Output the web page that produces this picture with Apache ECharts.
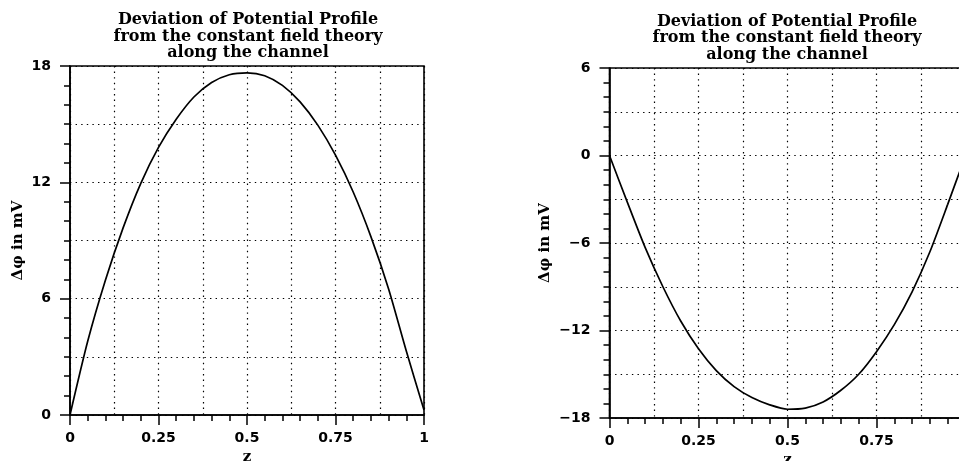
<!DOCTYPE html>
<html>
<head>
<meta charset="utf-8">
<script src="https://cdn.jsdelivr.net/npm/echarts@6/dist/echarts.min.js"></script>
<style>
html,body{margin:0;padding:0;background:#fff;overflow:hidden;}
#chart{width:959px;height:461px;}
</style>
</head>
<body>
<div id="chart"></div>
<script>
// ---- data ----
var zValues = [0, 0.05, 0.1, 0.15, 0.2, 0.25, 0.3, 0.35, 0.4, 0.45, 0.5, 0.55, 0.6, 0.65, 0.7, 0.75, 0.8, 0.85, 0.9, 0.95, 1.0];
var leftDelta = [0, 3.8, 6.95, 9.65, 11.95, 13.8, 15.25, 16.4, 17.15, 17.55, 17.65, 17.5, 17.0, 16.15, 14.95, 13.4, 11.5, 9.2, 6.5, 3.3, 0.26];
var rightDelta = [0, -3.2, -6.3, -9.0, -11.35, -13.25, -14.75, -15.85, -16.6, -17.1, -17.4, -17.32, -16.9, -16.1, -15.0, -13.45, -11.6, -9.35, -6.6, -3.35, 0.0];
var titleText = 'Deviation of Potential Profile\nfrom the constant field theory\nalong the channel';
var yName = '\u0394\u03c6 in mV';
var xName = 'z';
var leftYRange = [0, 18];
var rightYRange = [-18, 6];

function pairs(xs, ys) {
  return xs.map(function (x, i) { return [x, ys[i]]; });
}
function fmt(v) { return String(v).replace('-', '\u2212'); }

var labelFont = { fontFamily: 'DejaVu Sans', fontWeight: 'bold', fontSize: 14, color: '#000' };
var nameFont = { fontFamily: 'DejaVu Serif', fontWeight: 'bold', fontSize: 15, color: '#000' };
var dotted = { color: '#000', width: 1.2, type: [1.4, 4.2] };

function mainX(g, gap) {
  return {
    type: 'value', gridIndex: g, min: 0, max: 1, interval: 0.25, position: 'bottom',
    name: xName, nameLocation: 'middle', nameGap: gap, nameTextStyle: nameFont,
    axisLine: { show: true, onZero: false, lineStyle: { color: '#000', width: 1.6 } },
    axisTick: { show: true, length: 10, lineStyle: { color: '#000', width: 1.5 } },
    minorTick: { show: true, splitNumber: 5, length: 6, lineStyle: { color: '#000', width: 1.5 } },
    axisLabel: Object.assign({ margin: 16, formatter: fmt }, labelFont),
    splitLine: { show: false }, minorSplitLine: { show: false }
  };
}
function gridX(g) {
  return {
    type: 'value', gridIndex: g, min: 0, max: 1, interval: 0.125, position: 'top',
    axisLine: { show: false }, axisTick: { show: false }, axisLabel: { show: false },
    splitLine: { show: true, lineStyle: dotted }
  };
}
function mainY(g, range, gap) {
  return {
    type: 'value', gridIndex: g, min: range[0], max: range[1], interval: 6, position: 'left',
    name: yName, nameLocation: 'middle', nameGap: gap, nameTextStyle: nameFont,
    axisLine: { show: true, onZero: false, lineStyle: { color: '#000', width: 1.6 } },
    axisTick: { show: true, length: 10, lineStyle: { color: '#000', width: 1.5 } },
    minorTick: { show: true, splitNumber: 6, length: 6, lineStyle: { color: '#000', width: 1.5 } },
    axisLabel: Object.assign({ margin: 19, formatter: fmt }, labelFont),
    splitLine: { show: false }, minorSplitLine: { show: false }
  };
}
function gridY(g, range) {
  return {
    type: 'value', gridIndex: g, min: range[0], max: range[1], interval: 3, position: 'right',
    axisLine: { show: false }, axisTick: { show: false }, axisLabel: { show: false },
    splitLine: { show: true, lineStyle: dotted }
  };
}

var titleStyle = { fontFamily: 'DejaVu Serif', fontWeight: 'bold', fontSize: 16, lineHeight: 16.5, color: '#000' };

var option = {
  animation: false,
  backgroundColor: '#fff',
  title: [
    { text: titleText, left: 248, top: 12, textAlign: 'center', padding: 0, textStyle: titleStyle },
    { text: titleText, left: 787, top: 13.5, textAlign: 'center', padding: 0, textStyle: titleStyle }
  ],
  grid: [
    { left: 70, top: 66, width: 354, height: 349, show: true, borderColor: '#000', borderWidth: 1.6,
      backgroundColor: 'transparent', containLabel: false, outerBoundsMode: 'none' },
    { left: 609.5, top: 68, width: 356, height: 350, show: true, borderColor: '#000', borderWidth: 1.6,
      backgroundColor: 'transparent', containLabel: false, outerBoundsMode: 'none' }
  ],
  xAxis: [mainX(0, 34), gridX(0), mainX(1, 32), gridX(1)],
  yAxis: [mainY(0, leftYRange, 44), gridY(0, leftYRange), mainY(1, rightYRange, 57), gridY(1, rightYRange)],
  series: [
    { type: 'line', xAxisIndex: 0, yAxisIndex: 0, data: pairs(zValues, leftDelta), smooth: 0.25, symbol: 'none',
      lineStyle: { color: '#000', width: 1.7 }, z: 5 },
    { type: 'line', xAxisIndex: 2, yAxisIndex: 2, data: pairs(zValues, rightDelta), smooth: 0.25, symbol: 'none',
      lineStyle: { color: '#000', width: 1.7 }, z: 5 }
  ]
};

var chart = echarts.init(document.getElementById('chart'), null, { renderer: 'canvas' });
chart.setOption(option);
</script>
</body>
</html>
